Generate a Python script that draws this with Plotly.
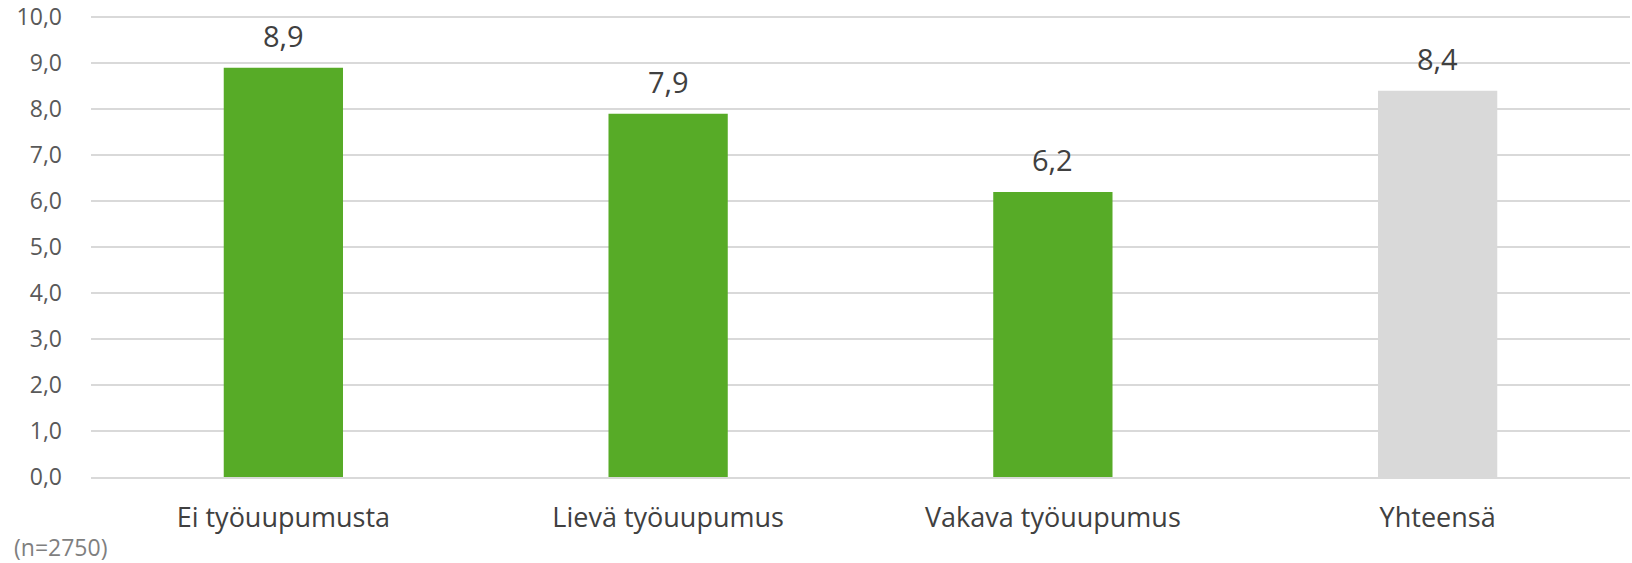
import plotly.graph_objects as go

categories = ["Ei työuupumusta", "Lievä työuupumus", "Vakava työuupumus", "Yhteensä"]
values = [8.9, 7.9, 6.2, 8.4]
colors = ["#57AB27", "#57AB27", "#57AB27", "#D9D9D9"]
y_ticks = [0, 1, 2, 3, 4, 5, 6, 7, 8, 9, 10]
y_tick_labels = [f"{v:.1f}".replace(".", ",") for v in y_ticks]
value_labels = [f"{v:.1f}".replace(".", ",") for v in values]
note = "(n=2750)"

FONT = "Open Sans"

fig = go.Figure(go.Bar(x=categories, y=values, marker_color=colors, marker_line_width=0))

for c, v, t in zip(categories, values, value_labels):
    fig.add_annotation(x=c, y=v, text=t, showarrow=False, yanchor="bottom", yshift=11,
                       font=dict(family=FONT, size=29, color="#404040"))

fig.add_annotation(xref="paper", yref="paper", x=-0.0513, y=-0.152, xanchor="left", yanchor="middle",
                   text=note, showarrow=False, font=dict(family=FONT, size=23, color="#7F7F7F"))

fig.update_layout(
    width=1632, height=563,
    margin=dict(l=91, r=2, t=15, b=86),
    plot_bgcolor="white", paper_bgcolor="white",
    bargap=0.69, showlegend=False,
    font=dict(family=FONT, size=25, color="#595959"),
)
fig.update_yaxes(range=[0, 10.05], tickvals=y_ticks, ticktext=y_tick_labels, showgrid=True,
                 gridcolor="#D9D9D9", gridwidth=2, zeroline=False, showline=False, automargin=False,
                 ticklabelstandoff=28, tickfont=dict(family=FONT, size=23, color="#595959"))
fig.update_xaxes(showline=True, linecolor="#D9D9D9", linewidth=2, ticklabelstandoff=16, automargin=False,
                 tickfont=dict(family=FONT, size=27, color="#404040"))

fig.write_html("out.html", config={"displayModeBar": False},
               post_script="document.body.style.margin='0';")
